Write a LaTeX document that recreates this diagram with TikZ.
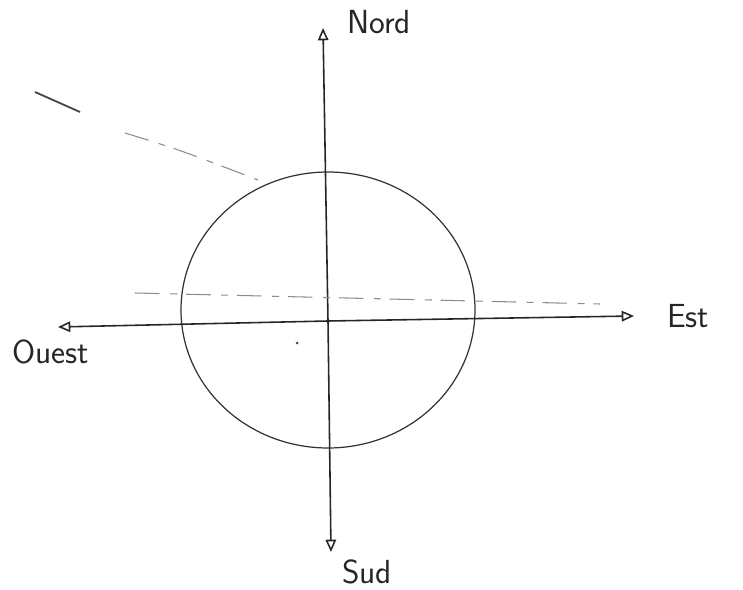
\documentclass[tikz,border=0pt]{standalone}
\usepackage{tikz}
\usetikzlibrary{arrows.meta, positioning, calc}

\begin{document}
\begin{tikzpicture}[
        x=0.02cm, y=-0.02cm,
        axis/.style={-{Triangle[open, length=7pt, width=6pt]}, line width=0.9pt, draw=black!85},
        orbit/.style={line width=0.7pt, draw=black!80},
        trace/.style={line width=0.6pt, draw=black!45, dash pattern=on 14pt off 6pt on 4pt off 5pt},
        dir/.style={font=\sffamily\fontsize{19}{22}\selectfont, text=black!85, inner sep=1pt}
    ]
        \useasboundingbox (0,0) rectangle (743,590);
        \coordinate (c) at (328,321);
        \coordinate (n) at (323,28);
        \coordinate (s) at (331,552);
        \coordinate (w) at (58,327);
        \coordinate (e) at (634,316);
        \draw[orbit] (328,310) ellipse [x radius=147, y radius=138];
        \draw[axis] (c) -- (n);
        \draw[axis] (c) -- (s);
        \draw[axis] (c) -- (w);
        \draw[axis] (c) -- (e);
        \draw[trace] (135,293) -- (600,304);
        \draw[line width=1pt, draw=black!75] (35,92) -- (80,112);
        \draw[trace] (125,133) .. controls (180,150) .. (258,180);
        \fill[black!70] (297,343) circle (1.5);
        \node[dir, anchor=west] (nord) at (345,22) {Nord};
        \node[dir, anchor=west] (sud) at (340,572) {Sud};
        \node[dir, anchor=west] (est) at (665,316) {Est};
        \node[dir, anchor=west] (ouest) at (10,352) {Ouest};
    \end{tikzpicture}
\end{document}
